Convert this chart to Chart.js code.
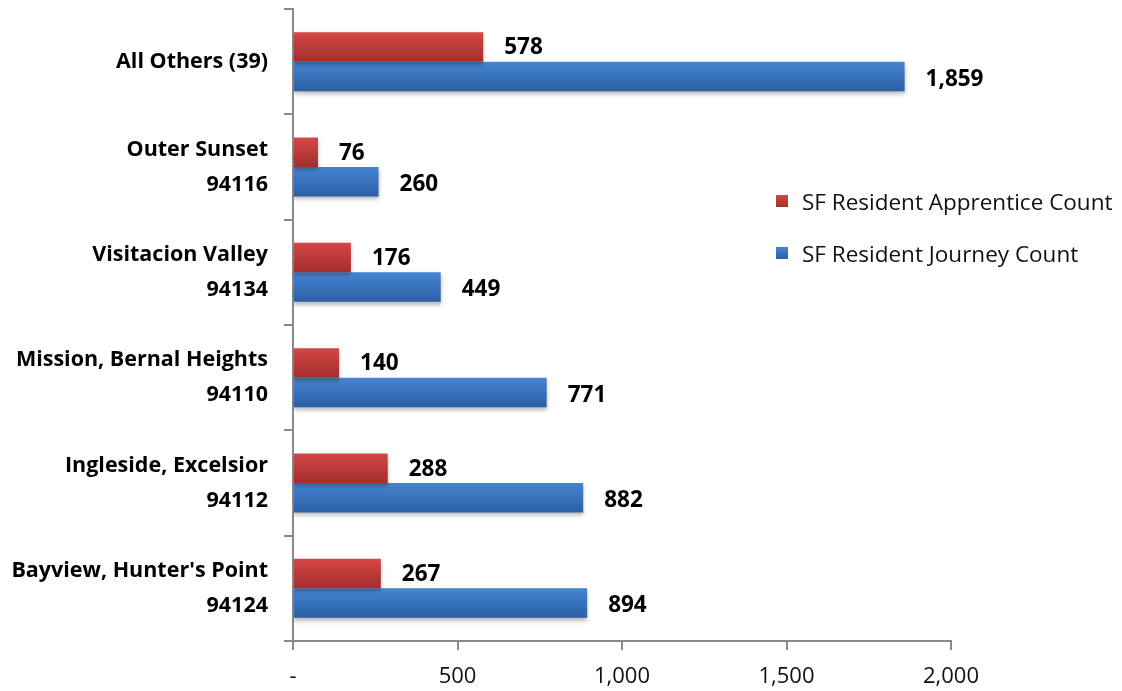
<!DOCTYPE html>
<html>
<head>
<meta charset="utf-8">
<script src="https://cdn.jsdelivr.net/npm/chart.js@4"></script>
<style>
  body { margin: 0; background: #fff; }
  #wrap { position: relative; width: 1122px; height: 691px; }
  #legend { position: absolute; left: 776px; top: 186px; font-family: "Open Sans", sans-serif; font-size: 22.5px; color: #111; }
  .item { display: flex; align-items: center; height: 30px; margin-bottom: 22px; }
  .box { width: 12px; height: 12px; margin-right: 14px; }
</style>
</head>
<body>
<div id="wrap">
  <canvas id="myChart" width="1122" height="691"></canvas>
  <div id="legend"></div>
</div>
<script>
const zones = [
    'All Others (39)',
    ['Outer Sunset', '94116'],
    ['Visitacion Valley', '94134'],
    ['Mission, Bernal Heights', '94110'],
    ['Ingleside, Excelsior', '94112'],
    ["Bayview, Hunter's Point", '94124']
]
const apprentice = [578, 76, 176, 140, 288, 267]
const journey = [1859, 260, 449, 771, 882, 894]
const xTicks = [0, 500, 1000, 1500, 2000]

const seriesNames = ['SF Resident Apprentice Count', 'SF Resident Journey Count']
const colors = [['#d44846', '#a32e2d'], ['#4585d3', '#2c5fa5']]

// vertical shading on each bar, top light -> bottom dark
const shade = (ds) => (c) => {
    const chart = c.chart
    const y = chart.scales.y
    if (!y || !chart.chartArea) return colors[ds][0]
    const meta = chart.getDatasetMeta(ds)
    const bar = meta.data[c.dataIndex]
    let top, bottom
    if (bar && bar.height) {
        top = bar.y - bar.height / 2
        bottom = bar.y + bar.height / 2
    } else {
        const mid = y.getPixelForValue(c.dataIndex)
        const h = (y.height / zones.length) * 0.56 / 2
        top = ds === 0 ? mid - h : mid
        bottom = top + h
    }
    const g = chart.ctx.createLinearGradient(0, top, 0, bottom)
    g.addColorStop(0, colors[ds][0])
    g.addColorStop(1, colors[ds][1])
    return g
}

const barShadow = {
    id: 'barShadow',
    beforeDatasetsDraw(chart) {
        const ctx = chart.ctx
        ctx.save()
        ctx.shadowColor = 'rgba(0,0,0,0.28)'
        ctx.shadowBlur = 4
        ctx.shadowOffsetY = 3
    },
    afterDatasetsDraw(chart) {
        chart.ctx.restore()
    }
}

const valueLabels = {
    id: 'valueLabels',
    afterDatasetsDraw(chart) {
        const ctx = chart.ctx
        ctx.save()
        ctx.font = 'bold 22.5px "Open Sans"'
        ctx.fillStyle = '#000'
        ctx.textAlign = 'left'
        ctx.textBaseline = 'middle'
        chart.data.datasets.forEach((d, i) => {
            chart.getDatasetMeta(i).data.forEach((bar, j) => {
                ctx.fillText(d.data[j].toLocaleString('en-US'), bar.x + 21, bar.y + (i === 0 ? 1 : 3))
            })
        })
        ctx.restore()
    }
}

const ctx = document.getElementById('myChart')

new Chart(ctx, {
    type: 'bar',
    data: {
        labels: zones,
        datasets: [
            { label: seriesNames[0], data: apprentice, backgroundColor: shade(0) },
            { label: seriesNames[1], data: journey, backgroundColor: shade(1) }
        ]
    },
    options: {
        indexAxis: 'y',
        responsive: false,
        animation: false,
        categoryPercentage: 0.56,
        barPercentage: 1.0,
        layout: { padding: { top: 9, right: 171, left: 0, bottom: 0 } },
        plugins: {
            legend: { display: false },
            tooltip: { enabled: false }
        },
        scales: {
            x: {
                min: 0,
                max: 2000,
                afterBuildTicks: (s) => { s.ticks = xTicks.map(v => ({ value: v })) },
                afterFit: (s) => { s.height = 50; s.paddingLeft = 0; s.paddingRight = 0 },
                border: { color: '#8a8a8a', width: 2 },
                grid: { drawOnChartArea: false, drawTicks: true, tickLength: 9, color: '#8a8a8a', lineWidth: 2 },
                ticks: {
                    padding: 14,
                    color: '#111',
                    font: { family: 'Open Sans', size: 22 },
                    callback: (v) => v === 0 ? '-' : v.toLocaleString('en-US')
                }
            },
            y: {
                afterFit: (s) => { s.width = 293; s.paddingTop = 0; s.paddingBottom = 0 },
                border: { color: '#8a8a8a', width: 2 },
                grid: { drawOnChartArea: false, drawTicks: true, tickLength: 9, color: '#8a8a8a', lineWidth: 2, offset: true },
                ticks: {
                    padding: 16,
                    color: '#000',
                    font: { family: 'Open Sans', size: 21.5, weight: 'bold', lineHeight: 1.63 }
                }
            }
        }
    },
    plugins: [barShadow, valueLabels]
})

// legend on the right side over the plot
const legend = document.getElementById('legend')
seriesNames.forEach((name, i) => {
    const row = document.createElement('div')
    row.className = 'item'
    row.innerHTML = `<span class="box" style="background:linear-gradient(${colors[i][0]},${colors[i][1]})"></span>${name}`
    legend.appendChild(row)
})
</script>
</body>
</html>
